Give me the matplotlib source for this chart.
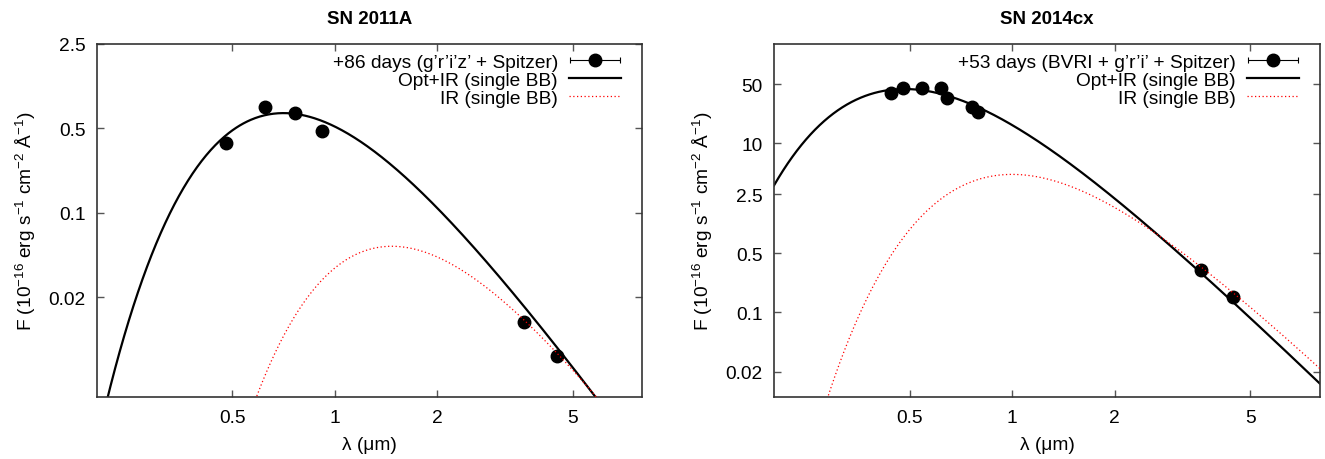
import matplotlib
matplotlib.use("Agg")
import matplotlib.pyplot as plt
from matplotlib.legend_handler import HandlerErrorbar
import numpy as np

plt.rcParams['font.family'] = ['Liberation Sans', 'DejaVu Sans']
plt.rcParams['mathtext.default'] = 'regular'
plt.rcParams['font.size'] = 13.75

# SN 2011A, +86 d
lam_11a = [0.48, 0.625, 0.766, 0.92, 3.6, 4.5]
flux_11a = [0.38, 0.75, 0.67, 0.48, 0.0126, 0.0066]
# blackbody fits: (temperature K, peak flux)
bb_11a_all = (4100, 0.67)
bb_11a_ir = (1970, 0.053)

# SN 2014cx, +53 d
lam_14cx = [0.44, 0.477, 0.545, 0.62, 0.642, 0.76, 0.796, 3.57, 4.46]
flux_14cx = [39.2, 45, 45, 45, 34.1, 26.7, 23.3, 0.316, 0.151]
bb_14cx_all = (6000, 44)
bb_14cx_ir = (2900, 4.3)

panels = [
    dict(title="SN 2011A", lam=lam_11a, flux=flux_11a, bb_all=bb_11a_all, bb_ir=bb_11a_ir,
         label="+86 days (g’r’i’z’ + Spitzer)", ylim=(0.003, 2.5),
         yticks=[0.02, 0.1, 0.5, 2.5], yticklabels=["0.02", "0.1", "0.5", "2.5"]),
    dict(title="SN 2014cx", lam=lam_14cx, flux=flux_14cx, bb_all=bb_14cx_all, bb_ir=bb_14cx_ir,
         label="+53 days (BVRI + g’r’i’ + Spitzer)", ylim=(0.01, 150),
         yticks=[0.02, 0.1, 0.5, 2.5, 10, 50], yticklabels=["0.02", "0.1", "0.5", "2.5", "10", "50"]),
]

xticks = [0.5, 1, 2, 5]
xticklabels = ["0.5", "1", "2", "5"]


def planck(lam, temp, peak):
    # F_lambda of a blackbody, scaled so its maximum equals peak
    f = lam ** -5 / np.expm1(14388.0 / (lam * temp))
    lmax = 2897.8 / temp
    fmax = lmax ** -5 / np.expm1(14388.0 / (lmax * temp))
    return peak * f / fmax


lam_grid = np.geomspace(0.2, 8, 600)

fig = plt.figure(figsize=(13.25, 4.6), dpi=100)
axes = [fig.add_axes([0.0732, 0.1348, 0.4113, 0.7674]),
        fig.add_axes([0.5842, 0.1348, 0.4120, 0.7674])]

for ax, p in zip(axes, panels):
    eb = ax.errorbar(p["lam"], p["flux"], xerr=np.zeros(len(p["lam"])), fmt='o', color='black',
                     ms=9, capsize=2.5, elinewidth=0.8, capthick=0.8, label=p["label"], zorder=3)
    l1, = ax.plot(lam_grid, planck(lam_grid, *p["bb_all"]), color='black', lw=1.6,
                  label="Opt+IR (single BB)", zorder=2)
    l2, = ax.plot(lam_grid, planck(lam_grid, *p["bb_ir"]), color='red', lw=0.9,
                  linestyle=(0, (1, 2)), label="IR (single BB)", zorder=4)
    ax.set_xscale('log')
    ax.set_yscale('log')
    ax.set_xlim(0.2, 8)
    ax.set_ylim(*p["ylim"])
    ax.set_xticks(xticks)
    ax.set_xticklabels(xticklabels)
    ax.set_yticks(p["yticks"])
    ax.set_yticklabels(p["yticklabels"])
    ax.minorticks_off()
    ax.tick_params(direction='in', top=True, right=True, length=5, width=1,
                   color='#555555', pad=8, labelsize=13.75)
    ax.tick_params(axis='x', pad=9)
    for s in ax.spines.values():
        s.set_color('#333333')
        s.set_linewidth(1.2)
    ax.set_title(p["title"], fontweight='bold', fontsize=13.5, pad=15)
    ax.set_xlabel("λ (μm)", labelpad=7)
    ax.set_ylabel("F (10$^{-16}$ erg s$^{-1}$ cm$^{-2}$ Å$^{-1}$)", labelpad=8)
    ax.legend([eb, l1, l2], [p["label"], "Opt+IR (single BB)", "IR (single BB)"],
              loc='upper right', bbox_to_anchor=(0.961, 0.974), frameon=False,
              markerfirst=False, handlelength=2.7, handletextpad=0.58, labelspacing=0.05,
              borderaxespad=0, borderpad=0,
              handler_map={type(eb): HandlerErrorbar(xerr_size=1.3)})

fig.savefig("out.png", dpi=100)
